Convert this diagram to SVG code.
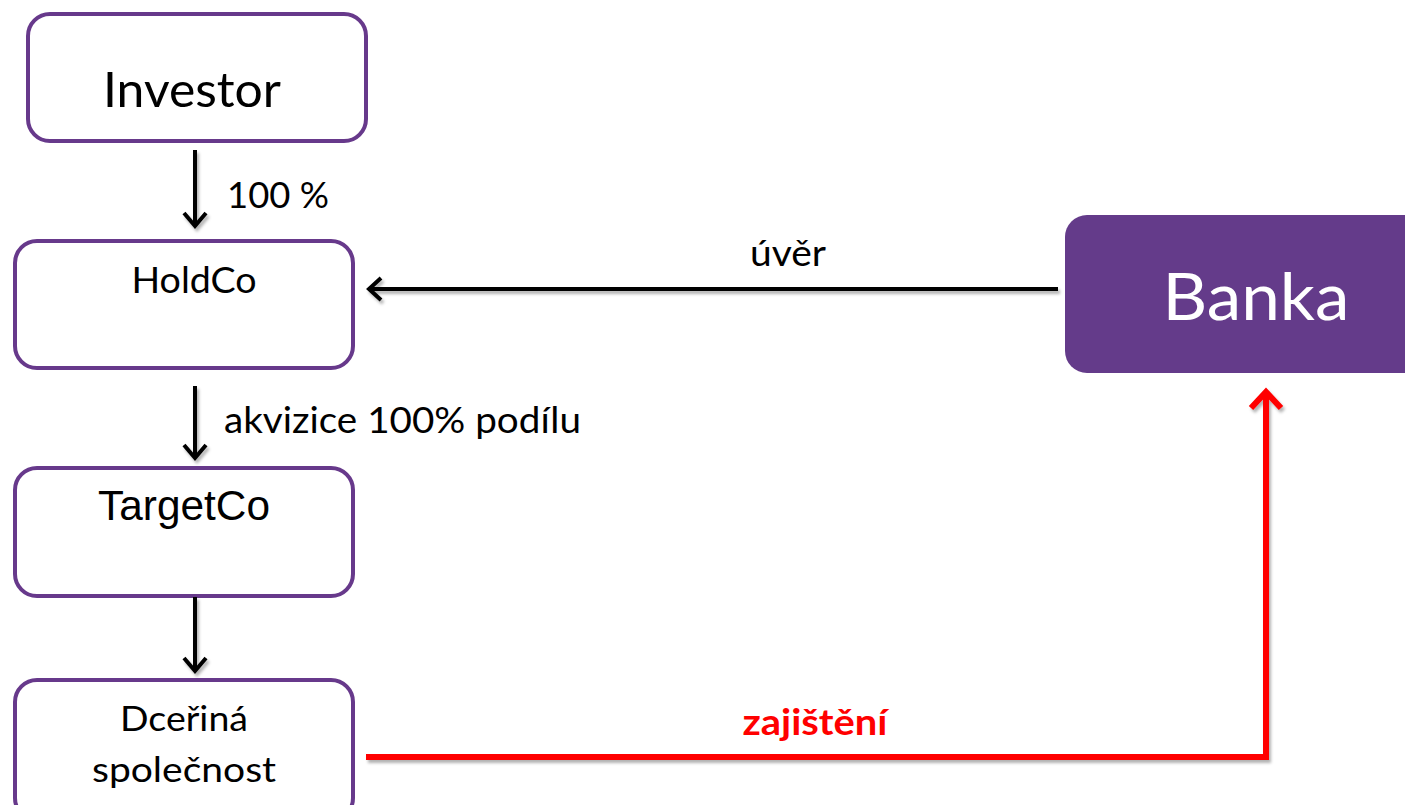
<svg xmlns="http://www.w3.org/2000/svg" width="1405" height="805" viewBox="0 0 1405 805">
<style>
.box{fill:#fff;stroke:#67398b;stroke-width:4}
.cal{font-family:Lato,"Open Sans","Liberation Sans",sans-serif;fill:#000}
.ari{font-family:"Liberation Sans",Arial,sans-serif;fill:#000}
.blk{stroke:#000;stroke-width:4;fill:none}
.red{stroke:#ff0000;stroke-width:6;fill:none}
</style>
<defs>
<filter id="sh" x="-10%" y="-10%" width="120%" height="120%">
<feDropShadow dx="2" dy="3" stdDeviation="1.5" flood-color="#000" flood-opacity="0.3"/>
</filter>
</defs>
<g id="investor">
<rect class="box" x="28" y="14" width="338" height="127" rx="22"/>
<text class="cal" x="192" y="107" font-size="49" text-anchor="middle" textLength="178" lengthAdjust="spacingAndGlyphs">Investor</text>
</g>
<g id="holdco">
<rect class="box" x="15" y="241" width="338" height="127" rx="22"/>
<text class="cal" x="194" y="293" font-size="37" text-anchor="middle" textLength="125" lengthAdjust="spacingAndGlyphs">HoldCo</text>
</g>
<g id="targetco">
<rect class="box" x="15" y="468" width="338" height="128" rx="22"/>
<text class="ari" x="184" y="520" font-size="42" text-anchor="middle" textLength="172" lengthAdjust="spacingAndGlyphs">TargetCo</text>
</g>
<g id="dcerina">
<rect class="box" x="15" y="680" width="338" height="140" rx="22"/>
<text class="cal" x="184" y="731" font-size="35" text-anchor="middle" textLength="128" lengthAdjust="spacingAndGlyphs">Dceřiná</text>
<text class="cal" x="184" y="782" font-size="35" text-anchor="middle" textLength="184" lengthAdjust="spacingAndGlyphs">společnost</text>
</g>
<g id="banka">
<rect x="1065" y="215" width="370" height="158" rx="22" fill="#643b8a"/>
<text x="1256" y="320" font-size="66" text-anchor="middle" fill="#fff" font-family="Lato, Open Sans, Liberation Sans, sans-serif" textLength="187" lengthAdjust="spacingAndGlyphs">Banka</text>
</g>
<g id="connectors" filter="url(#sh)">
<path class="blk" d="M195 150V226M184 213L195 226L206 213"/>
<path class="blk" d="M195 386V458M184 445L195 458L206 445"/>
<path class="blk" d="M195 597V671M184 658L195 671L206 658"/>
<path class="blk" d="M1058 289H369M381 278L369 289L381 300"/>
<path class="red" d="M366 757H1266V392M1251 408L1266 392L1281 408" stroke-linejoin="miter"/>
</g>
<g id="labels">
<text class="cal" x="227" y="208" font-size="37" textLength="102" lengthAdjust="spacingAndGlyphs">100 %</text>
<text class="cal" x="224" y="433" font-size="37" textLength="357" lengthAdjust="spacingAndGlyphs">akvizice 100% podílu</text>
<text class="cal" x="788" y="266" font-size="37" text-anchor="middle" textLength="76" lengthAdjust="spacingAndGlyphs">úvěr</text>
<text x="815" y="735" font-size="37" font-weight="bold" fill="#ff0000" text-anchor="middle" font-family="Lato, Open Sans, Liberation Sans, sans-serif" textLength="145" lengthAdjust="spacingAndGlyphs">zajištění</text>
</g>
</svg>
